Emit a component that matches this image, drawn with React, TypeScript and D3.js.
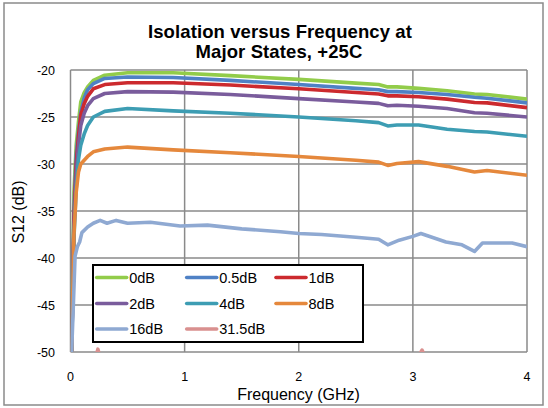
import * as d3 from 'd3'

// frequency grid (GHz) shared by the six smooth curves
const freqMain = [0, 0.01, 0.03, 0.05, 0.07, 0.09, 0.12, 0.15, 0.2, 0.3, 0.5, 0.9, 1.4, 2.0, 2.5, 2.7, 2.78, 2.86, 3.05, 3.3, 3.54, 3.65, 4.0]

const s0dB = [-60, -50, -33, -28, -25.5, -23.4, -22.4, -21.8, -21.1, -20.55, -20.3, -20.3, -20.6, -21.0, -21.4, -21.55, -21.8, -21.8, -21.95, -22.2, -22.55, -22.6, -23.1]
const s05dB = [-60, -50, -35, -29, -26.5, -24.5, -23.0, -22.1, -21.45, -20.9, -20.75, -20.8, -21.1, -21.55, -21.95, -22.1, -22.3, -22.3, -22.4, -22.6, -22.9, -23.0, -23.5]
const s1dB = [-60, -50, -36, -30, -27, -24.8, -23.6, -22.8, -22.0, -21.55, -21.35, -21.35, -21.6, -22.0, -22.4, -22.55, -22.75, -22.75, -22.85, -23.1, -23.45, -23.5, -24.0]
const s2dB = [-60, -50, -37, -31, -28, -25.9, -24.6, -23.8, -23.05, -22.5, -22.3, -22.35, -22.6, -23.05, -23.4, -23.55, -23.8, -23.75, -23.85, -24.1, -24.55, -24.6, -25.0]
const s4dB = [-60, -50, -38, -32.6, -29.5, -28, -26.8, -25.9, -25, -24.4, -24.1, -24.35, -24.6, -25.0, -25.4, -25.6, -25.95, -25.85, -25.85, -26.3, -26.55, -26.6, -27.05]
const s8dB = [-60, -50, -37.5, -33, -30.85, -30.0, -29.6, -29.2, -28.7, -28.4, -28.2, -28.5, -28.8, -29.2, -29.6, -29.8, -30.15, -29.95, -29.75, -30.25, -30.85, -30.7, -31.2]

const freq16 = [0, 0.01, 0.025, 0.04, 0.06, 0.08, 0.1, 0.15, 0.2, 0.26, 0.32, 0.4, 0.5, 0.7, 0.96, 1.2, 1.5, 1.84, 2.0, 2.2, 2.5, 2.7, 2.78, 2.88, 3.0, 3.07, 3.29, 3.43, 3.54, 3.61, 3.87, 4.0]
const s16dB = [-60, -50, -45, -39.8, -38.8, -38.3, -37.3, -36.7, -36.3, -36.0, -36.3, -36.0, -36.3, -36.2, -36.6, -36.5, -36.9, -37.2, -37.4, -37.5, -37.8, -38.0, -38.6, -38.1, -37.7, -37.4, -38.3, -38.6, -39.3, -38.4, -38.4, -38.8]

// mostly below the -50 floor, only peeks in at two spots
const freq31 = [0, 0.2, 0.24, 0.28, 1.0, 2.0, 3.0, 3.08, 3.15, 4.0]
const s31dB = [-60, -51.5, -49.7, -51.5, -53, -53, -51.5, -49.8, -51.5, -53]

const seriesNames = ['0dB', '0.5dB', '1dB', '2dB', '4dB', '8dB', '16dB', '31.5dB']
const seriesColors = ['#92cc4a', '#4f81c5', '#cc2a2e', '#7a5c9c', '#3d9db3', '#e5883c', '#8fa9d2', '#d9908f']

const xTicks = [0, 1, 2, 3, 4]
const yTicks = [-20, -25, -30, -35, -40, -45, -50]

const W = 548
const H = 408
const font = '"Liberation Sans", Arial, sans-serif'

export default function App() {
  const x = d3.scaleLinear().domain([0, 4]).range([70.5, 527])
  const y = d3.scaleLinear().domain([-50, -20]).range([352, 70])

  const series = [
    { f: freqMain, v: s0dB },
    { f: freqMain, v: s05dB },
    { f: freqMain, v: s1dB },
    { f: freqMain, v: s2dB },
    { f: freqMain, v: s4dB },
    { f: freqMain, v: s8dB },
    { f: freq16, v: s16dB },
    { f: freq31, v: s31dB },
  ]

  const line = d3
    .line<[number, number]>()
    .x((d) => x(d[0]))
    .y((d) => y(d[1]))

  const [x0, x1] = x.range()
  const [yb, yt] = y.range()

  // legend layout
  const legCols = [96.7, 186.7, 276]
  const legRows = [277.5, 303.5, 329]

  return (
    <svg width={W} height={H} style={{ position: 'absolute', left: 0, top: 0 }} fontFamily={font}>
      <rect x={0} y={0} width={W} height={H} fill="#fff" />
      <rect x={4} y={3} width={539} height={402} fill="none" stroke="#8a8a8a" strokeWidth={1.5} />

      <text x={280} y={37.5} textAnchor="middle" fontSize={18.5} fontWeight="bold" letterSpacing={0.1}>
        Isolation versus Frequency at
      </text>
      <text x={279} y={58.3} textAnchor="middle" fontSize={18.5} fontWeight="bold" letterSpacing={0.1}>
        Major States, +25C
      </text>

      <defs>
        <clipPath id="plot">
          <rect x={x0} y={yt} width={x1 - x0} height={yb - yt} />
        </clipPath>
      </defs>

      {yTicks.map((t) => (
        <line key={'gy' + t} x1={x0} x2={x1} y1={y(t)} y2={y(t)} stroke="#8a8a8a" strokeWidth={1.5} />
      ))}
      {xTicks.map((t) => (
        <line key={'gx' + t} x1={x(t)} x2={x(t)} y1={yt} y2={yb} stroke="#8a8a8a" strokeWidth={1.5} />
      ))}

      <g clipPath="url(#plot)">
        {series.map((s, i) => (
          <path
            key={seriesNames[i]}
            d={line(s.f.map((f, j) => [f, s.v[j]] as [number, number])) ?? ''}
            fill="none"
            stroke={seriesColors[i]}
            strokeWidth={3.6}
            strokeLinejoin="round"
          />
        ))}
      </g>

      {yTicks.map((t) => (
        <text key={'ly' + t} x={55} y={y(t) + 4.5} textAnchor="end" fontSize={12.5}>
          {t}
        </text>
      ))}
      {xTicks.map((t) => (
        <text key={'lx' + t} x={x(t)} y={381} textAnchor="middle" fontSize={12.5}>
          {t}
        </text>
      ))}

      <text x={298.5} y={400} textAnchor="middle" fontSize={16}>
        Frequency (GHz)
      </text>
      <text transform="translate(24,212) rotate(-90)" textAnchor="middle" fontSize={16}>
        S12 (dB)
      </text>

      <rect x={93} y={265} width={270} height={77} fill="#fff" stroke="#000" strokeWidth={2} />
      {seriesNames.map((name, i) => {
        const cx = legCols[i % 3]
        const cy = legRows[Math.floor(i / 3)]
        return (
          <g key={'leg' + name}>
            <line x1={cx} x2={cx + 30} y1={cy} y2={cy} stroke={seriesColors[i]} strokeWidth={3.6} strokeLinecap="round" />
            <text x={cx + 32.5} y={cy + 5.2} fontSize={14.5}>
              {name}
            </text>
          </g>
        )
      })}
    </svg>
  )
}
